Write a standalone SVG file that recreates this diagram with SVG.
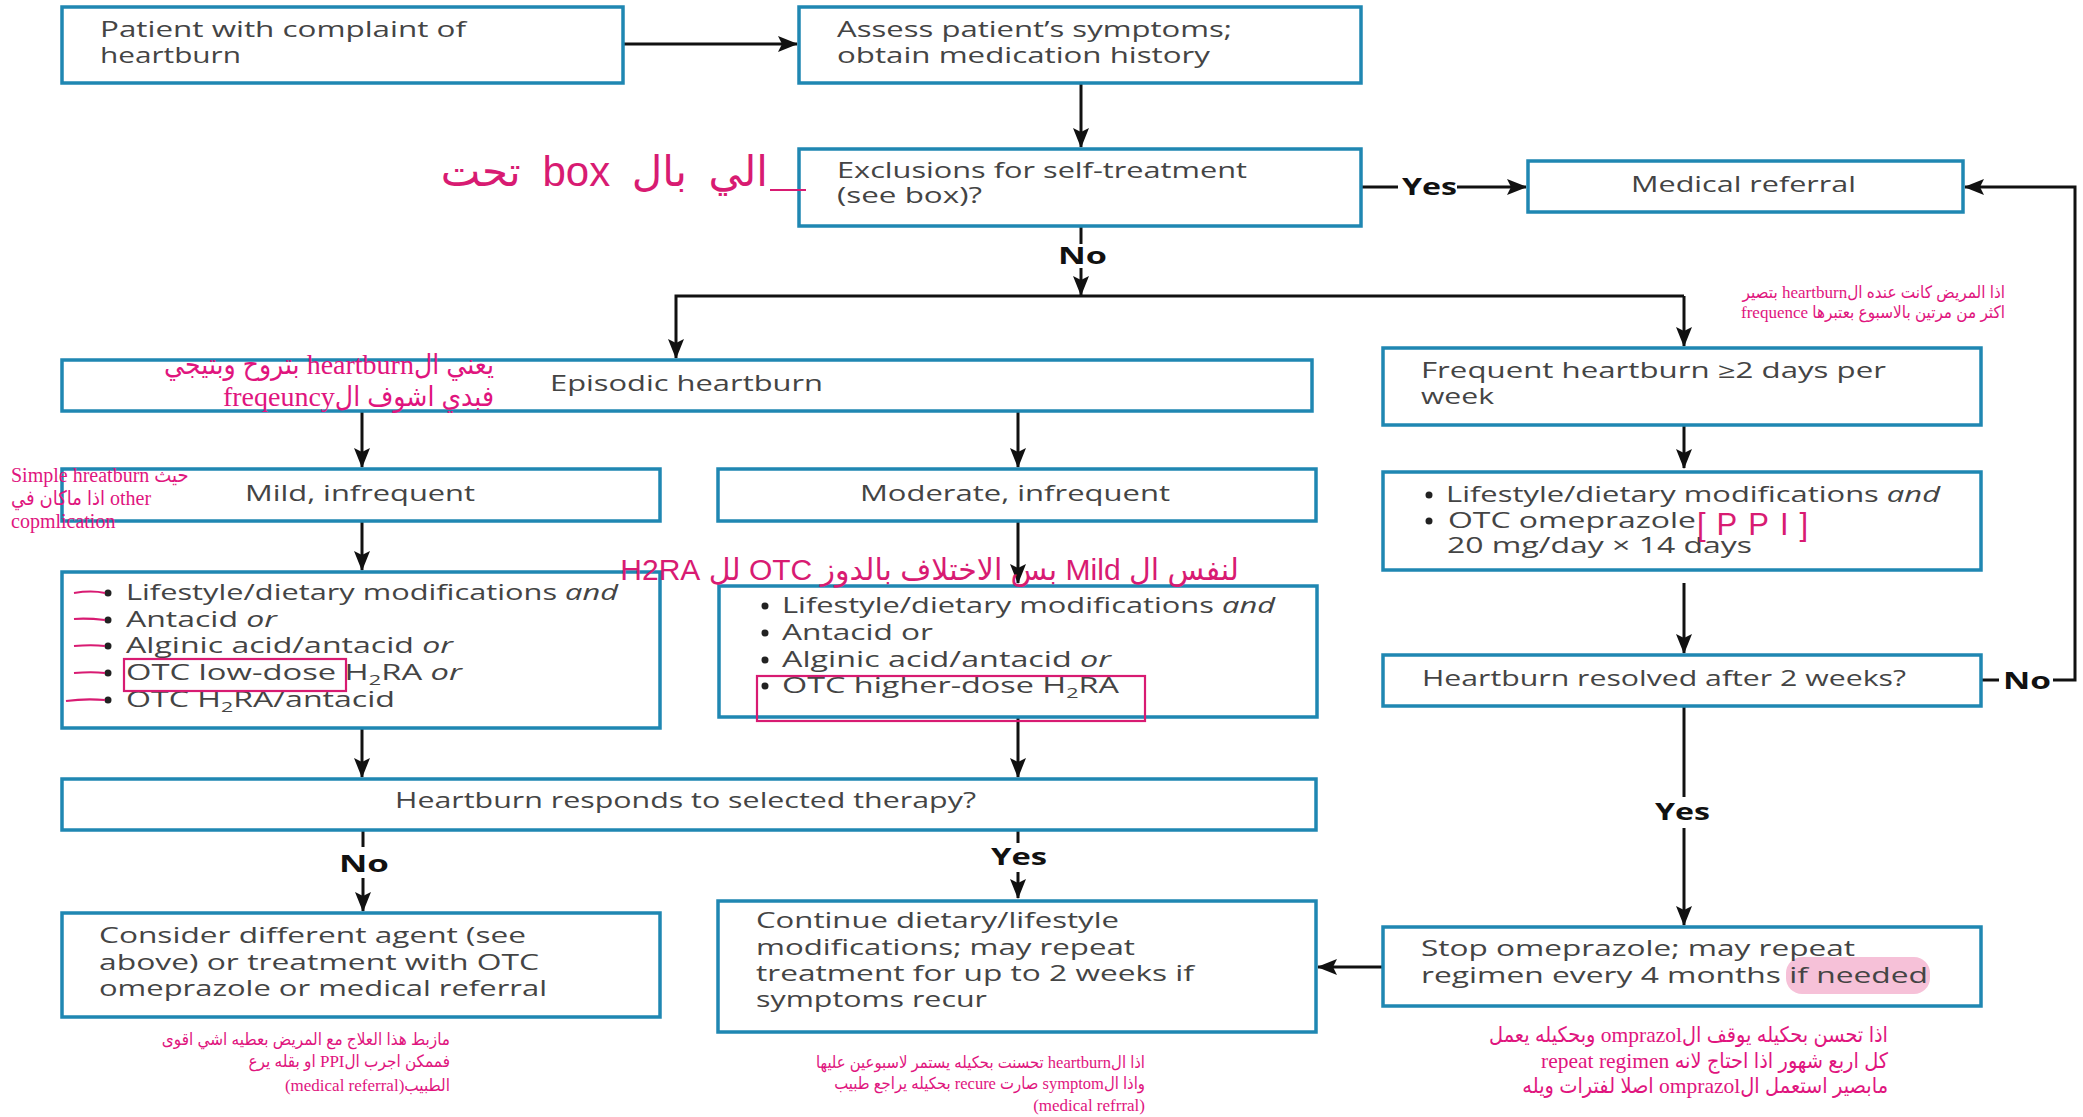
<svg xmlns="http://www.w3.org/2000/svg" width="2083" height="1117" viewBox="0 0 2083 1117">
<style>
.box{fill:#fff;stroke:#1f87b2;stroke-width:3.5}
.t{font-family:"Open Sans","Liberation Sans",sans-serif;font-size:21px;fill:#444}
.i{font-style:italic}
.lbl{font-family:"Open Sans","Liberation Sans",sans-serif;font-weight:700;font-size:23px;fill:#111}
.edge{stroke:#111;stroke-width:3;fill:none}
.arr{marker-end:url(#ah)}
.bul{fill:#222}
.note{font-family:"Liberation Serif","DejaVu Sans Condensed","DejaVu Sans",serif;fill:#e0157e}
.hand{font-family:"Liberation Sans","DejaVu Sans",sans-serif;fill:#d81b72}
.pk{fill:none;stroke:#d81b72;stroke-width:2.2}
</style>
<defs>
<marker id="ah" viewBox="0 0 20 16" refX="19" refY="8" markerWidth="20" markerHeight="16" markerUnits="userSpaceOnUse" orient="auto">
<path d="M0,0 L20,8 L0,16 L4,8 z" fill="#111"/>
</marker>
</defs>
<rect width="2083" height="1117" fill="#fff"/>

<g id="connectors">
<path class="edge arr" d="M623,44 H797"/>
<path class="edge arr" d="M1081,83 V147"/>
<path class="edge" d="M1360,187 H1398"/>
<path class="edge arr" d="M1457,187 H1526"/>
<path class="edge" d="M1081,226 V244"/>
<path class="edge arr" d="M1081,268 V295"/>
<path class="edge arr" d="M1684,296 H676 V358"/>
<path class="edge arr" d="M1684,296 V346"/>
<path class="edge arr" d="M362,412 V467"/>
<path class="edge arr" d="M1018,412 V467"/>
<path class="edge arr" d="M362,521 V570"/>
<path class="edge arr" d="M1018,521 V583"/>
<path class="edge arr" d="M362,728 V777"/>
<path class="edge arr" d="M1018,718 V777"/>
<path class="edge" d="M363,830 V847"/>
<path class="edge arr" d="M363,878 V911"/>
<path class="edge" d="M1018,830 V843"/>
<path class="edge arr" d="M1018,872 V898"/>
<path class="edge arr" d="M1684,425 V468"/>
<path class="edge arr" d="M1684,583 V653"/>
<path class="edge" d="M1684,706 V797"/>
<path class="edge arr" d="M1684,828 V925"/>
<path class="edge arr" d="M1383,967 H1318"/>
<path class="edge" d="M1981,680 H1999"/>
<path class="edge arr" d="M2053,680 H2075 V187 H1965"/>
<text class="lbl" x="1402" y="195" textLength="55" lengthAdjust="spacingAndGlyphs">Yes</text>
<text class="lbl" x="1058" y="264" textLength="49" lengthAdjust="spacingAndGlyphs">No</text>
<text class="lbl" x="339" y="872" textLength="50" lengthAdjust="spacingAndGlyphs">No</text>
<text class="lbl" x="991" y="865" textLength="56" lengthAdjust="spacingAndGlyphs">Yes</text>
<text class="lbl" x="2003" y="689" textLength="48" lengthAdjust="spacingAndGlyphs">No</text>
<text class="lbl" x="1655" y="820" textLength="55" lengthAdjust="spacingAndGlyphs">Yes</text>
</g>

<g id="n-patient">
<rect class="box" x="62" y="7" width="561" height="76"/>
<text class="t" x="100" y="37" textLength="366" lengthAdjust="spacingAndGlyphs">Patient with complaint of</text>
<text class="t" x="100" y="63" textLength="141" lengthAdjust="spacingAndGlyphs">heartburn</text>
</g>
<g id="n-assess">
<rect class="box" x="799" y="7" width="562" height="76"/>
<text class="t" x="837" y="37" textLength="395" lengthAdjust="spacingAndGlyphs">Assess patient’s symptoms;</text>
<text class="t" x="837" y="63" textLength="373" lengthAdjust="spacingAndGlyphs">obtain medication history</text>
</g>
<g id="n-exclusions">
<rect class="box" x="799" y="149" width="562" height="77"/>
<text class="t" x="837" y="178" textLength="410" lengthAdjust="spacingAndGlyphs">Exclusions for self-treatment</text>
<text class="t" x="837" y="203" textLength="145" lengthAdjust="spacingAndGlyphs">(see box)?</text>
</g>
<g id="n-referral">
<rect class="box" x="1528" y="161" width="435" height="51"/>
<text class="t" x="1631" y="192" textLength="225" lengthAdjust="spacingAndGlyphs">Medical referral</text>
</g>
<g id="n-frequent">
<rect class="box" x="1383" y="348" width="598" height="77"/>
<text class="t" x="1421" y="378" textLength="465" lengthAdjust="spacingAndGlyphs">Frequent heartburn ≥2 days per</text>
<text class="t" x="1421" y="404" textLength="73" lengthAdjust="spacingAndGlyphs">week</text>
</g>
<g id="n-episodic">
<rect class="box" x="62" y="360" width="1250" height="51"/>
<text class="t" x="550" y="391" textLength="273" lengthAdjust="spacingAndGlyphs">Episodic heartburn</text>
</g>
<g id="n-mild">
<rect class="box" x="62" y="469" width="598" height="52"/>
<text class="t" x="245" y="501" textLength="230" lengthAdjust="spacingAndGlyphs">Mild, infrequent</text>
</g>
<g id="n-moderate">
<rect class="box" x="718" y="469" width="598" height="52"/>
<text class="t" x="860" y="501" textLength="310" lengthAdjust="spacingAndGlyphs">Moderate, infrequent</text>
</g>
<g id="n-mild-list">
<rect class="box" x="62" y="572" width="598" height="156"/>
<circle class="bul" cx="108" cy="593" r="3.5"/>
<circle class="bul" cx="108" cy="620" r="3.5"/>
<circle class="bul" cx="108" cy="646" r="3.5"/>
<circle class="bul" cx="108" cy="673" r="3.5"/>
<circle class="bul" cx="108" cy="700" r="3.5"/>
<text class="t" x="126" y="600" textLength="492" lengthAdjust="spacingAndGlyphs">Lifestyle/dietary modifications <tspan class="i">and</tspan></text>
<text class="t" x="126" y="627" textLength="151" lengthAdjust="spacingAndGlyphs">Antacid <tspan class="i">or</tspan></text>
<text class="t" x="126" y="653" textLength="327" lengthAdjust="spacingAndGlyphs">Alginic acid/antacid <tspan class="i">or</tspan></text>
<text class="t" x="126" y="680" textLength="336" lengthAdjust="spacingAndGlyphs">OTC low-dose H<tspan font-size="14" dy="5">2</tspan><tspan dy="-5">RA </tspan><tspan class="i">or</tspan></text>
<text class="t" x="126" y="707" textLength="269" lengthAdjust="spacingAndGlyphs">OTC H<tspan font-size="14" dy="5">2</tspan><tspan dy="-5">RA/antacid</tspan></text>
</g>
<g id="n-moderate-list">
<rect class="box" x="719" y="586" width="598" height="131"/>
<circle class="bul" cx="765" cy="606" r="3.5"/>
<circle class="bul" cx="765" cy="633" r="3.5"/>
<circle class="bul" cx="765" cy="660" r="3.5"/>
<circle class="bul" cx="765" cy="686" r="3.5"/>
<text class="t" x="782" y="613" textLength="493" lengthAdjust="spacingAndGlyphs">Lifestyle/dietary modifications <tspan class="i">and</tspan></text>
<text class="t" x="782" y="640" textLength="151" lengthAdjust="spacingAndGlyphs">Antacid or</text>
<text class="t" x="782" y="667" textLength="329" lengthAdjust="spacingAndGlyphs">Alginic acid/antacid <tspan class="i">or</tspan></text>
<text class="t" x="782" y="693" textLength="337" lengthAdjust="spacingAndGlyphs">OTC higher-dose H<tspan font-size="14" dy="5">2</tspan><tspan dy="-5">RA</tspan></text>
</g>
<g id="n-omeprazole-list">
<rect class="box" x="1383" y="472" width="598" height="98"/>
<circle class="bul" cx="1429" cy="495" r="3.5"/>
<circle class="bul" cx="1429" cy="521" r="3.5"/>
<text class="t" x="1446" y="502" textLength="494" lengthAdjust="spacingAndGlyphs">Lifestyle/dietary modifications <tspan class="i">and</tspan></text>
<text class="t" x="1448" y="528" textLength="248" lengthAdjust="spacingAndGlyphs">OTC omeprazole</text>
<text class="t" x="1447" y="553" textLength="305" lengthAdjust="spacingAndGlyphs">20 mg/day × 14 days</text>
</g>
<g id="n-resolved">
<rect class="box" x="1383" y="655" width="598" height="51"/>
<text class="t" x="1422" y="686" textLength="484" lengthAdjust="spacingAndGlyphs">Heartburn resolved after 2 weeks?</text>
</g>
<g id="n-responds">
<rect class="box" x="62" y="779" width="1254" height="51"/>
<text class="t" x="395" y="808" textLength="581" lengthAdjust="spacingAndGlyphs">Heartburn responds to selected therapy?</text>
</g>
<g id="n-consider">
<rect class="box" x="62" y="913" width="598" height="104"/>
<text class="t" x="99" y="943" textLength="427" lengthAdjust="spacingAndGlyphs">Consider different agent (see</text>
<text class="t" x="99" y="970" textLength="440" lengthAdjust="spacingAndGlyphs">above) or treatment with OTC</text>
<text class="t" x="99" y="996" textLength="448" lengthAdjust="spacingAndGlyphs">omeprazole or medical referral</text>
</g>
<g id="n-continue">
<rect class="box" x="718" y="901" width="598" height="131"/>
<text class="t" x="756" y="928" textLength="363" lengthAdjust="spacingAndGlyphs">Continue dietary/lifestyle</text>
<text class="t" x="756" y="955" textLength="379" lengthAdjust="spacingAndGlyphs">modifications; may repeat</text>
<text class="t" x="756" y="981" textLength="438" lengthAdjust="spacingAndGlyphs">treatment for up to 2 weeks if</text>
<text class="t" x="756" y="1007" textLength="231" lengthAdjust="spacingAndGlyphs">symptoms recur</text>
</g>
<g id="n-stop">
<rect class="box" x="1383" y="927" width="598" height="79"/>
<rect x="1786" y="957" width="144" height="37" rx="16" fill="#f2a7c8" opacity="0.7"/>
<text class="t" x="1421" y="956" textLength="434" lengthAdjust="spacingAndGlyphs">Stop omeprazole; may repeat</text>
<text class="t" x="1421" y="983" textLength="507" lengthAdjust="spacingAndGlyphs">regimen every 4 months if needed</text>
</g>

<g id="annotations">
<text class="hand" x="768" y="186" font-size="42" word-spacing="10" direction="rtl" text-anchor="start">الي بال box تحت</text>
<path class="pk" d="M770,190 H806"/>
<text class="note" x="2005" y="298" font-size="17" direction="rtl" text-anchor="start">اذا المريض كانت عنده الheartburn بتصير</text>
<text class="note" x="2005" y="318" font-size="17" direction="rtl" text-anchor="start">اكثر من مرتين بالاسبوع بعتبرها frequence</text>
<text class="note" x="494" y="374" font-size="28" direction="rtl" text-anchor="start">يعني الheartburn بتروح وبتيجي</text>
<text class="note" x="494" y="406" font-size="28" direction="rtl" text-anchor="start">فبدي اشوف الfreqeuncy</text>
<text class="note" x="11" y="482" font-size="20">Simple hreatburn حيث</text>
<text class="note" x="11" y="505" font-size="20">اذا ماكان في other</text>
<text class="note" x="11" y="528" font-size="20">copmlication</text>
<path class="pk" d="M74,593 C86,591 96,591 105,593"/>
<path class="pk" d="M74,619 C86,618 96,619 105,620"/>
<path class="pk" d="M74,646 C86,645 96,645 105,646"/>
<path class="pk" d="M74,673 C86,672 96,672 105,673"/>
<path class="pk" d="M66,701 C80,699 94,699 105,700"/>
<rect class="pk" x="124" y="659" width="222" height="32"/>
<text class="hand" x="1239" y="580" font-size="30" direction="rtl" text-anchor="start">لنفس ال Mild بس الاختلاف بالدوز OTC لل H2RA</text>
<rect class="pk" x="757" y="676" width="388" height="45"/>
<text class="hand" x="1697" y="535" font-size="31" letter-spacing="11">[PPI]</text>
<text class="note" x="450" y="1045" font-size="17" direction="rtl" text-anchor="start">مازبط هذا العلاج مع المريض بعطيه اشي اقوى</text>
<text class="note" x="450" y="1067" font-size="17" direction="rtl" text-anchor="start">فممكن اجرب الPPI او بقله يرع</text>
<text class="note" x="450" y="1091" font-size="17" direction="rtl" text-anchor="start">الطبيب(medical referral)</text>
<text class="note" x="1145" y="1068" font-size="16.5" direction="rtl" text-anchor="start">اذا الheartburn تحسنت بحكيله يستمر لاسبوعين عليها</text>
<text class="note" x="1145" y="1089" font-size="16.5" direction="rtl" text-anchor="start">واذا الsymptom صارت recure بحكيله يراجع طبيب</text>
<text class="note" x="1145" y="1111" font-size="17" direction="rtl" text-anchor="start">(medical refrral)</text>
<text class="note" x="1888" y="1042" font-size="21.5" direction="rtl" text-anchor="start">اذا تحسن بحكيله يوقف الomprazol وبحكيله يعمل</text>
<text class="note" x="1888" y="1068" font-size="21.5" direction="rtl" text-anchor="start">كل اربع شهور اذا احتاج لانه repeat regimen</text>
<text class="note" x="1888" y="1093" font-size="21.5" direction="rtl" text-anchor="start">مابصير استعمل الomprazol اصلا لفترات ويله</text>
</g>
</svg>
